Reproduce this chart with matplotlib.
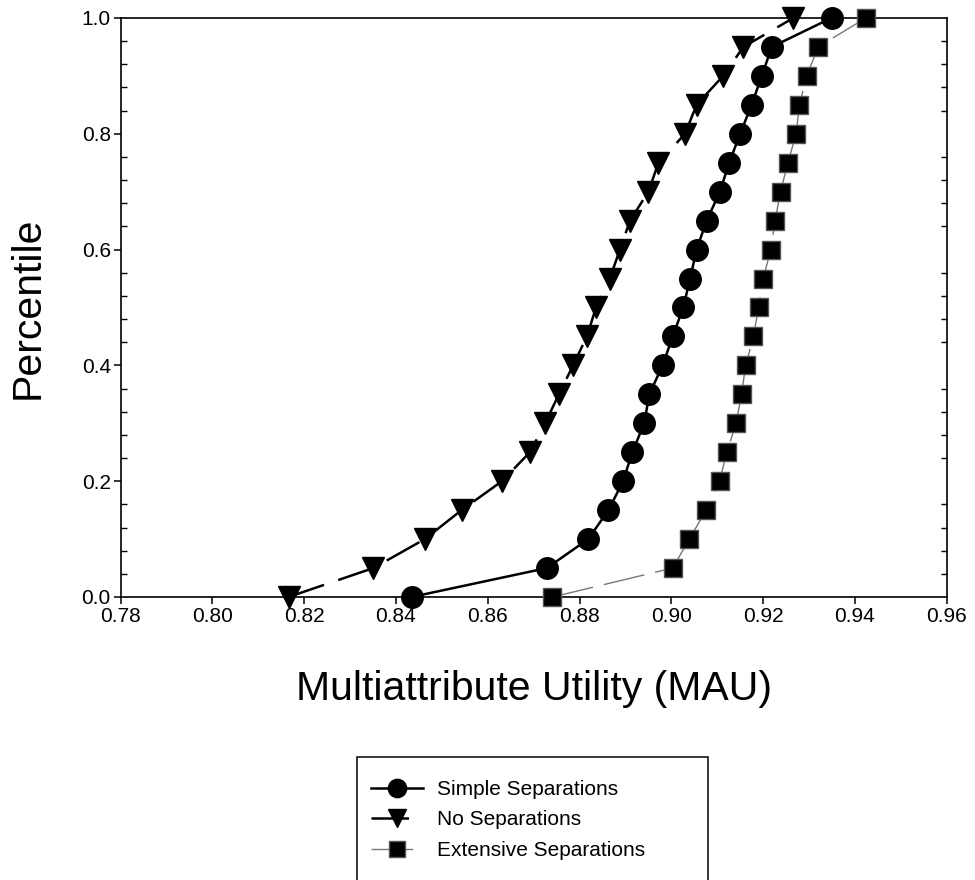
import numpy as np
import matplotlib
matplotlib.use("Agg")
import matplotlib.pyplot as plt
from matplotlib.ticker import MultipleLocator, FormatStrFormatter
from matplotlib.patches import Rectangle

plt.rcParams['font.family'] = ['Liberation Sans', 'DejaVu Sans']

# cumulative percentile of each MAU result
percentile = [0.00, 0.05, 0.10, 0.15, 0.20, 0.25, 0.30, 0.35, 0.40, 0.45, 0.50,
              0.55, 0.60, 0.65, 0.70, 0.75, 0.80, 0.85, 0.90, 0.95, 1.00]

mau_simple = [0.8434, 0.8729, 0.8819, 0.8863, 0.8895, 0.8915, 0.8941, 0.8952,
              0.8981, 0.9003, 0.9026, 0.9041, 0.9055, 0.9077, 0.9106, 0.9126,
              0.9150, 0.9175, 0.9197, 0.9219, 0.9349]
mau_none = [0.8166, 0.8351, 0.8463, 0.8543, 0.8631, 0.8692, 0.8725, 0.8755,
            0.8786, 0.8816, 0.8836, 0.8866, 0.8888, 0.8910, 0.8950, 0.8972,
            0.9030, 0.9055, 0.9113, 0.9157, 0.9266]
mau_extensive = [0.8741, 0.9003, 0.9039, 0.9076, 0.9105, 0.9121, 0.9141, 0.9153,
                 0.9162, 0.9179, 0.9190, 0.9200, 0.9217, 0.9226, 0.9238, 0.9254,
                 0.9272, 0.9279, 0.9295, 0.9320, 0.9424]

labels = ["Simple Separations", "No Separations", "Extensive Separations"]

fig = plt.figure(figsize=(9.75, 8.8), dpi=100)
ax = fig.add_axes([0.1236, 0.3216, 0.8474, 0.658])

l1, = ax.plot(mau_simple, percentile, color='black', lw=1.8, marker='o',
              ms=15.5, clip_on=False, zorder=3)
l2, = ax.plot(mau_none, percentile, color='black', lw=1.8, ls=(0, (15, 6)),
              marker='v', ms=15.5, clip_on=False, zorder=3)
l3, = ax.plot(mau_extensive, percentile, color='#777777', lw=1.0,
              ls=(0, (30, 8)), marker='s', ms=13, mfc='black', mec='#555555',
              mew=1.0, clip_on=False, zorder=3)

ax.set_xlim(0.78, 0.96)
ax.set_ylim(0.0, 1.0)
ax.set_xticks(np.arange(0.78, 0.9601, 0.02))
ax.set_yticks(np.arange(0.0, 1.001, 0.2))
ax.yaxis.set_minor_locator(MultipleLocator(0.04))
ax.xaxis.set_major_formatter(FormatStrFormatter('%.2f'))
ax.yaxis.set_major_formatter(FormatStrFormatter('%.1f'))

ax.tick_params(which='major', direction='out', length=5, width=1.1, pad=2,
               labelsize=15, top=False, right=False)
ax.tick_params(axis='y', which='minor', direction='in', length=4, width=1.0,
               left=True, right=True)
for sp in ax.spines.values():
    sp.set_linewidth(1.2)

fig.text(533.6 / 975, 1 - 700 / 880, "Multiattribute Utility (MAU)",
         fontsize=29.5, ha='center', va='baseline')
fig.text(28 / 975, 1 - 307.5 / 880, "Percentile", fontsize=29.5,
         rotation=90, ha='center', va='center')

# legend box runs off the bottom of the page
fig.patches.append(Rectangle((357 / 975, -0.05), (708 - 357) / 975,
                             1 - 757 / 880 + 0.05, transform=fig.transFigure,
                             fill=False, edgecolor='black', lw=1.1))
fig.legend([l1, l2, l3], labels, loc='upper left',
           bbox_to_anchor=(371 / 975, 1 - 780 / 880), frameon=False,
           borderpad=0, borderaxespad=0, fontsize=15, handlelength=2.5,
           handletextpad=0.67, labelspacing=0.55, markerscale=0.85)

fig.savefig("out.png", dpi=100)
